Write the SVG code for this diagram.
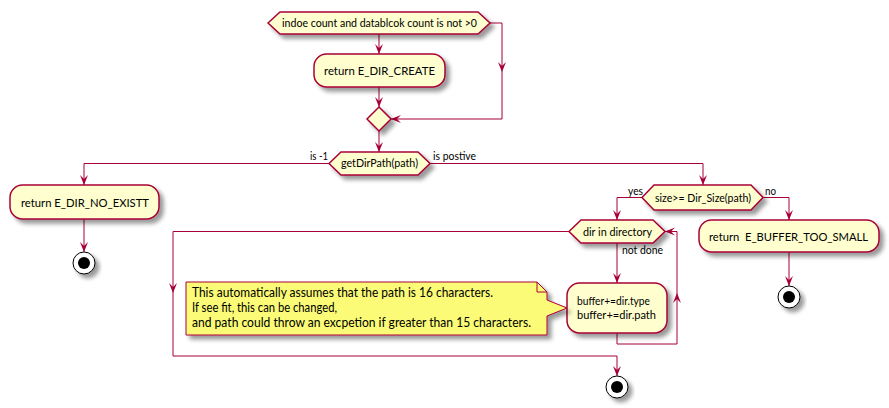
<svg xmlns="http://www.w3.org/2000/svg" width="889" height="408" viewBox="0 0 889 408">
<defs>
<filter id="sh" x="-20%" y="-20%" width="150%" height="160%">
<feGaussianBlur in="SourceAlpha" stdDeviation="2" result="b"/>
<feColorMatrix in="b" type="matrix" values="0 0 0 0 0 0 0 0 0 0 0 0 0 0 0 0 0 0 .4 0" result="b2"/>
<feOffset in="b2" dx="4" dy="4" result="b3"/>
<feMerge><feMergeNode in="b3"/><feMergeNode in="SourceGraphic"/></feMerge>
</filter>
<marker id="arr" viewBox="-11 -5 12 10" refX="0" refY="0" markerWidth="12" markerHeight="10" orient="auto" markerUnits="userSpaceOnUse">
<path d="M0,0 L-10,-4 L-6,0 L-10,4 Z" fill="#A80036"/>
</marker>
</defs>
<style>
.n{fill:#FEFECE;stroke:#A80036;stroke-width:1.5;filter:url(#sh)}
.note{fill:#FBFB77;stroke:#A80036;stroke-width:1;filter:url(#sh)}
.c{fill:none;stroke:#A80036;stroke-width:1}
.a{marker-end:url(#arr)}
text{font-family:Lato,"Open Sans","DejaVu Sans",sans-serif;fill:#000}
.s11{font-size:11px}
.s12{font-size:12px}
.s13{font-size:12.5px}
.stopO{fill:#fff;stroke:#000;stroke-width:1;filter:url(#sh)}
</style>
<g id="connectors">
<path class="c a" d="M379,34 V54"/>
<path class="c a" d="M379,87 V107"/>
<path class="c a" d="M490,23 H502 V72"/>
<path class="c a" d="M502,72 V119 H391"/>
<path class="c a" d="M379,131 V152"/>
<path class="c a" d="M329,163.5 H84 V185"/>
<path class="c a" d="M84,219 V252"/>
<path class="c a" d="M430,163.5 H703 V185"/>
<path class="c a" d="M642,197.5 H617 V220"/>
<path class="c a" d="M763,197.5 H789 V220"/>
<path class="c a" d="M789,252 V286"/>
<path class="c a" d="M617,243 V283"/>
<path class="c a" d="M617,333 V344 H677 V293"/>
<path class="c a" d="M677,293 V231.5 H665"/>
<path class="c a" d="M569,231.5 H173 V293"/>
<path class="c a" d="M173,293 V356 H617 V376"/>
<text class="s11" x="310" y="160" textLength="18" lengthAdjust="spacingAndGlyphs">is -1</text>
<text class="s11" x="433" y="160" textLength="43" lengthAdjust="spacingAndGlyphs">is postive</text>
<text class="s11" x="628" y="195" textLength="15" lengthAdjust="spacingAndGlyphs">yes</text>
<text class="s11" x="765" y="195" textLength="11" lengthAdjust="spacingAndGlyphs">no</text>
<text class="s11" x="622" y="254" textLength="41" lengthAdjust="spacingAndGlyphs">not done</text>
</g>
<g id="if1">
<polygon class="n" points="268,23 280,12 478,12 490,23 478,34 280,34"/>
<text class="s11" x="282" y="27" textLength="195" lengthAdjust="spacingAndGlyphs">indoe count and datablcok count is not &gt;0</text>
</g>
<g id="create">
<rect class="n" x="314" y="54" width="131" height="33" rx="12.5"/>
<text class="s12" x="324" y="75" textLength="111" lengthAdjust="spacingAndGlyphs">return E_DIR_CREATE</text>
</g>
<g id="merge">
<polygon class="n" points="379,107 391,119 379,131 367,119"/>
</g>
<g id="getdir">
<polygon class="n" points="329,163.5 341,152 418,152 430,163.5 418,175 341,175"/>
<text class="s11" x="341" y="167" textLength="77" lengthAdjust="spacingAndGlyphs">getDirPath(path)</text>
</g>
<g id="noexist">
<rect class="n" x="10" y="185" width="149" height="34" rx="12.5"/>
<text class="s12" x="21" y="207" textLength="128" lengthAdjust="spacingAndGlyphs">return E_DIR_NO_EXISTT</text>
</g>
<g id="stop1">
<circle class="stopO" cx="84" cy="263" r="11"/>
<circle cx="84" cy="263" r="6" fill="#000"/>
</g>
<g id="size">
<polygon class="n" points="642,197.5 654,185 751,185 763,197.5 751,210 654,210"/>
<text class="s11" x="655" y="202" textLength="96" lengthAdjust="spacingAndGlyphs">size&gt;= Dir_Size(path)</text>
</g>
<g id="toosmall">
<rect class="n" x="699" y="220" width="180" height="32" rx="12.5"/>
<text class="s12" x="709" y="241" textLength="159" lengthAdjust="spacingAndGlyphs" xml:space="preserve">return  E_BUFFER_TOO_SMALL</text>
</g>
<g id="stop2">
<circle class="stopO" cx="789" cy="297" r="11"/>
<circle cx="789" cy="297" r="6" fill="#000"/>
</g>
<g id="loop">
<polygon class="n" points="569,231.5 581,220 653,220 665,231.5 653,243 581,243"/>
<text class="s11" x="583" y="236" textLength="69" lengthAdjust="spacingAndGlyphs">dir in directory</text>
</g>
<g id="buffer">
<rect class="n" x="567" y="283" width="100" height="50" rx="12.5"/>
<text class="s12" x="577" y="305" textLength="73" lengthAdjust="spacingAndGlyphs">buffer+=dir.type</text>
<text class="s12" x="577" y="319" textLength="79" lengthAdjust="spacingAndGlyphs">buffer+=dir.path</text>
</g>
<g id="note">
<path class="note" d="M186,282 L537,282 L547,292 L547,300 L567,308 L547,316 L547,335 L186,335 Z"/>
<path d="M537,282 L537,292 L547,292" fill="none" stroke="#A80036" stroke-width="1"/>
<text class="s13" x="192" y="297" textLength="301" lengthAdjust="spacingAndGlyphs">This automatically assumes that the path is 16 characters.</text>
<text class="s13" x="192" y="312" textLength="145" lengthAdjust="spacingAndGlyphs">If see fit, this can be changed,</text>
<text class="s13" x="192" y="327" textLength="339" lengthAdjust="spacingAndGlyphs">and path could throw an excpetion if greater than 15 characters.</text>
</g>
<g id="stop3">
<circle class="stopO" cx="617" cy="387" r="11"/>
<circle cx="617" cy="387" r="6" fill="#000"/>
</g>
</svg>
